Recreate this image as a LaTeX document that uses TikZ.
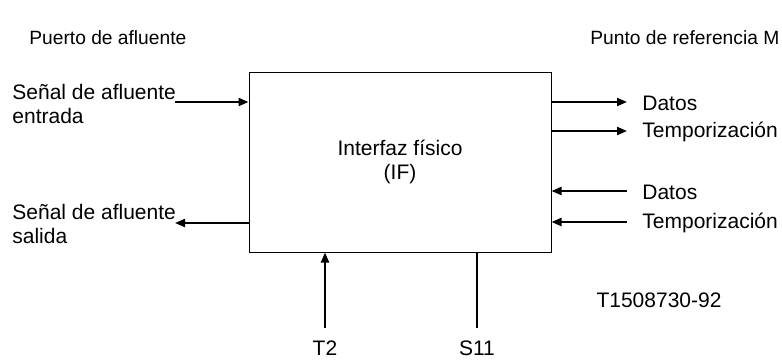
\documentclass[tikz,border=0pt]{standalone}
\usepackage{fontspec}
\setmainfont{Liberation Sans}
\usepackage{tikz}
\usetikzlibrary{arrows.meta,positioning}

\begin{document}
\begin{tikzpicture}[
  x=0.5pt, y=-0.5pt,
  every node/.style={font=\fontsize{10.5}{12}\selectfont, inner sep=0pt},
  box/.style={draw, line width=0.5pt, minimum width=151pt,
              minimum height=90pt, align=center},
  lbl/.style={anchor=west, align=left},
  head/.style={lbl, font=\fontsize{9.6}{11}\selectfont},
  arr/.style={-{Triangle[length=5pt,width=4pt]}, line width=1pt},
  wire/.style={line width=1pt}
]
\useasboundingbox (0,0) rectangle (782,360);

% Main block
\node[box] (if) at (400,162) {Interfaz físico\\(IF)};

% Headings
\node[head] (port) at (29,38)  {Puerto de afluente};
\node[head] (refm) at (590,38) {Punto de referencia M};

% Tributary side
\node[lbl] (sin)  at (12,104) {Señal de afluente\\entrada};
\node[lbl] (sout) at (12,224) {Señal de afluente\\salida};
\coordinate (ain)  at (175,102);
\coordinate (aout) at (175,223);
\draw[arr] (ain) -- (ain -| if.west);
\draw[arr] (aout -| if.west) -- (aout);

% Reference point M side
\node[lbl] (dout) at (642,103) {Datos};
\node[lbl] (tout) at (642,132) {Temporización};
\node[lbl] (din)  at (642,192) {Datos};
\node[lbl] (tin)  at (642,223) {Temporización};
\coordinate (r1) at (627,102);
\coordinate (r2) at (627,131);
\coordinate (r3) at (627,191);
\coordinate (r4) at (627,222);
\draw[arr] (if.east |- r1) -- (r1);
\draw[arr] (if.east |- r2) -- (r2);
\draw[arr] (r3) -- (r3 -| if.east);
\draw[arr] (r4) -- (r4 -| if.east);

% Bottom connections
\node (t2)  at (325,348) {T2};
\node (s11) at (477,348) {S11};
\coordinate (bt) at (325,328);
\coordinate (bs) at (477,328);
\draw[arr]  (bt) -- (bt |- if.south);
\draw[wire] (if.south -| bs) -- (bs);

% Figure number
\node (fig) at (659,300) {T1508730-92};
\end{tikzpicture}
\end{document}
